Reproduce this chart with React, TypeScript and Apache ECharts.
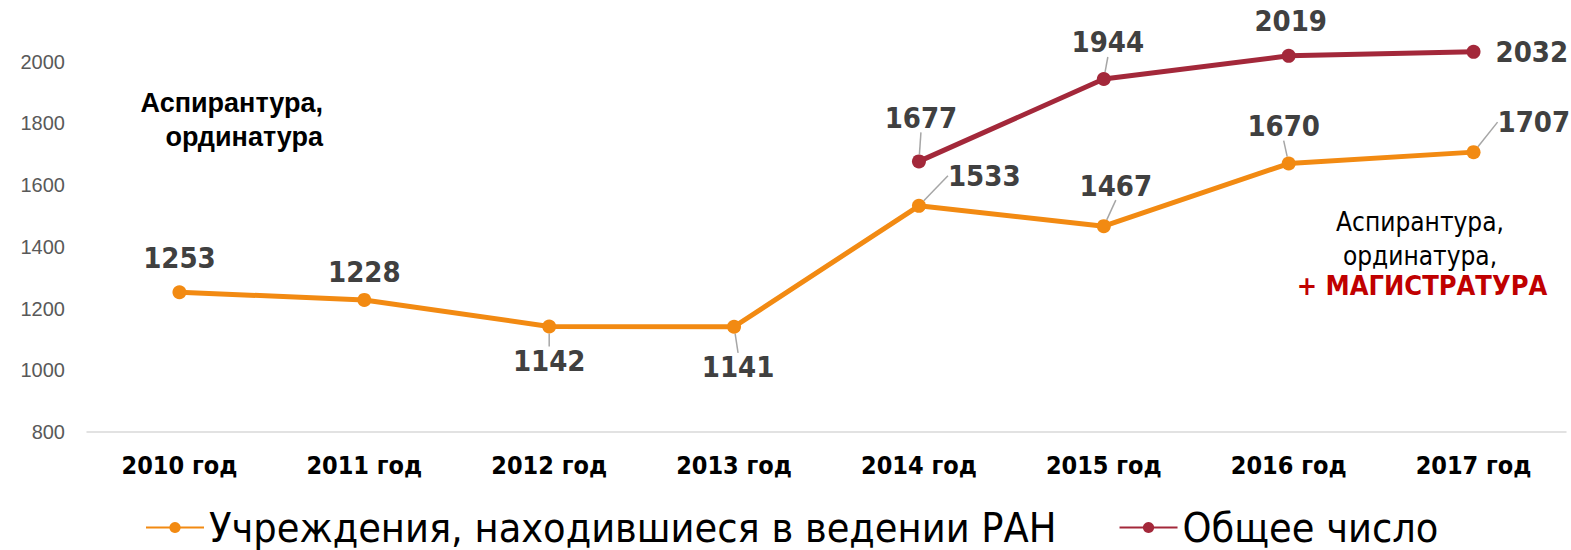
import React, { useEffect, useRef } from "react";
import * as echarts from "echarts";

const categories = ["2010 год", "2011 год", "2012 год", "2013 год", "2014 год", "2015 год", "2016 год", "2017 год"];
const ranValues = [1253, 1228, 1142, 1141, 1533, 1467, 1670, 1707];
const totalValues: (number | null)[] = [null, null, null, null, 1677, 1944, 2019, 2032];
const yTicks = [800, 1000, 1200, 1400, 1600, 1800, 2000];
const seriesNames = ["Учреждения, находившиеся в ведении РАН", "Общее число"];

// label placement per point: [position, dx, dy, leader]
const ranLabelPos: [string, number, number, boolean][] = [
  ["top", 0, -8, false],
  ["top", 0, -1, false],
  ["bottom", 0, 8, true],
  ["bottom", 4, 14, true],
  ["right", 17, -30, true],
  ["top", 12, -14, true],
  ["top", -5, -11, true],
  ["right", 12, -30, true],
];
const totalLabelPos: [string, number, number, boolean][] = [
  ["top", 0, 0, false],
  ["top", 0, 0, false],
  ["top", 0, 0, false],
  ["top", 0, 0, false],
  ["top", 2, -17, true],
  ["top", 4, -10, true],
  ["top", 2, -8, false],
  ["right", 10, 0, false],
];

const FONT = "'Liberation Sans Narrow', 'Arial Narrow', 'DejaVu Sans Condensed', Arial, sans-serif";
const FONT_REG = "'Liberation Sans', Arial, sans-serif";

export default function App() {
  const ref = useRef<HTMLDivElement>(null);
  useEffect(() => {
    if (!ref.current) return;
    const chart = echarts.init(ref.current, null, { renderer: "svg" });
    const mkData = (vals: (number | null)[], pos: [string, number, number, boolean][]) =>
      vals.map((v, i) => ({
        value: v,
        label: { position: pos[i][0] as any },
        labelLine: { show: pos[i][3] },
      }));
    const mkLayout = (pos: [string, number, number, boolean][]) => (p: any) => ({
      dx: pos[p.dataIndex][1],
      dy: pos[p.dataIndex][2],
    });
    const labelStyle = {
      show: true,
      fontFamily: FONT,
      fontWeight: "bold" as const,
      fontSize: 29,
      color: "#404040",
      distance: 5,
    };
    chart.setOption({
      animation: false,
      backgroundColor: "#ffffff",
      grid: { left: 87, right: 5, top: 0, bottom: 118, containLabel: false },
      legend: {
        bottom: -3,
        left: 140,
        itemWidth: 58,
        itemHeight: 14,
        itemGap: 62,
        textStyle: { fontFamily: FONT, fontSize: 41, color: "#000" },
        data: seriesNames,
      },
      xAxis: {
        type: "category",
        data: categories,
        boundaryGap: true,
        axisLine: { lineStyle: { color: "#d9d9d9", width: 1.5 } },
        axisTick: { show: false },
        axisLabel: {
          fontFamily: FONT,
          fontWeight: "bold",
          fontSize: 25,
          color: "#000",
          margin: 21,
        },
      },
      yAxis: {
        type: "value",
        min: 800,
        max: 2200,
        interval: 200,
        splitLine: { show: false },
        axisLine: { show: false },
        axisTick: { show: false },
        axisLabel: {
          fontFamily: FONT_REG,
          fontSize: 20,
          color: "#595959",
          margin: 22,
          formatter: (v: number) => (yTicks.includes(v) ? String(v) : ""),
        },
      },
      graphic: [
        {
          type: "text",
          x: 323,
          y: 86,
          style: {
            text: "Аспирантура,\nординатура",
            font: `bold 27px ${FONT_REG}`,
            fill: "#000",
            align: "right",
            lineHeight: 34,
          },
        },
        {
          type: "text",
          x: 1420,
          y: 205,
          style: {
            text: "Аспирантура,\nординатура,",
            font: `26px ${FONT}`,
            fill: "#000",
            align: "center",
            lineHeight: 34,
          },
        },
        {
          type: "text",
          x: 1422,
          y: 272,
          style: {
            text: "+ МАГИСТРАТУРА",
            font: `bold 27px ${FONT}`,
            fill: "#c00000",
            align: "center",
          },
        },
      ],
      series: [
        {
          name: seriesNames[0],
          type: "line",
          data: mkData(ranValues, ranLabelPos),
          color: "#f28a12",
          lineStyle: { width: 5, color: "#f28a12" },
          itemStyle: { color: "#f28a12" },
          symbol: "circle",
          symbolSize: 14,
          label: labelStyle,
          labelLine: { lineStyle: { color: "#a6a6a6", width: 1.5 } },
          labelLayout: mkLayout(ranLabelPos),
          clip: false,
        },
        {
          name: seriesNames[1],
          type: "line",
          data: mkData(totalValues, totalLabelPos),
          color: "#a3283a",
          lineStyle: { width: 5, color: "#a3283a" },
          itemStyle: { color: "#a3283a" },
          symbol: "circle",
          symbolSize: 14,
          label: labelStyle,
          labelLine: { lineStyle: { color: "#a6a6a6", width: 1.5 } },
          labelLayout: mkLayout(totalLabelPos),
          clip: false,
        },
      ],
    });
    return () => chart.dispose();
  }, []);
  return <div ref={ref} style={{ width: 1571, height: 550, position: "absolute", left: 0, top: 0 }} />;
}
